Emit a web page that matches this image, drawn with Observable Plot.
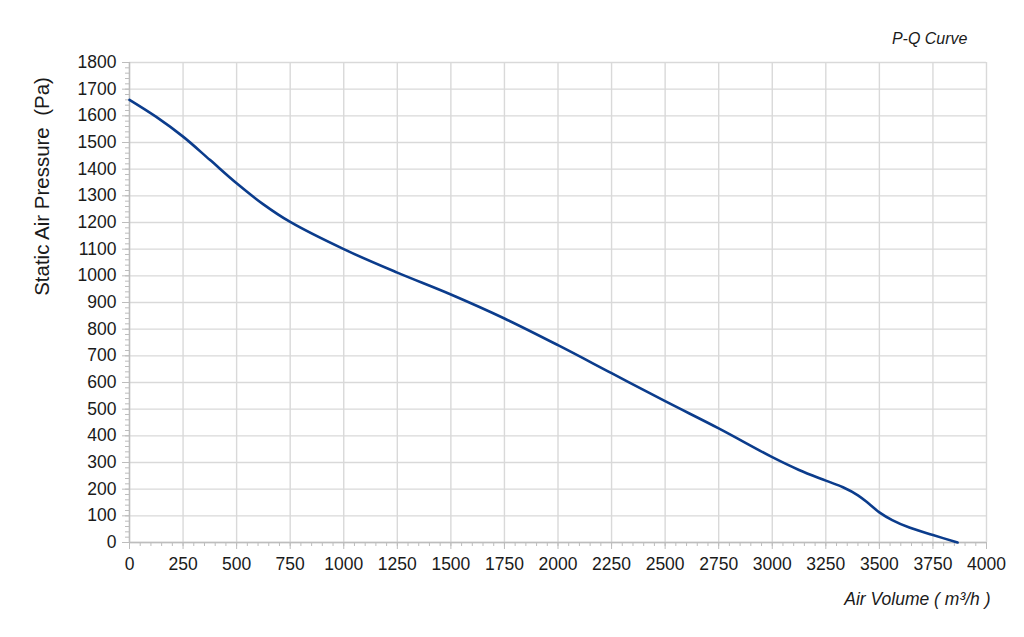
<!DOCTYPE html>
<html><head><meta charset="utf-8">
<script src="https://cdn.jsdelivr.net/npm/d3@7"></script>
<script src="https://cdn.jsdelivr.net/npm/@observablehq/plot@0.6"></script>
<style>body{margin:0;background:#fff;font-family:"Liberation Sans",Arial,sans-serif;}</style>
</head><body><div id="chart"></div>
<script>
const airVolume = [0, 125, 250, 375, 500, 625, 750, 1000, 1250, 1500, 1750, 2000, 2250, 2500, 2750, 3000, 3125, 3250, 3330, 3400, 3450, 3500, 3560, 3640, 3750, 3865];
const pressure  = [1660, 1596, 1522, 1435, 1347, 1268, 1202, 1100, 1012, 930, 840, 740, 635, 530, 428, 320, 272, 232, 207, 177, 146, 113, 84, 56, 28, 0];
const xTicks = [0, 250, 500, 750, 1000, 1250, 1500, 1750, 2000, 2250, 2500, 2750, 3000, 3250, 3500, 3750, 4000];
const yTicks = [0, 100, 200, 300, 400, 500, 600, 700, 800, 900, 1000, 1100, 1200, 1300, 1400, 1500, 1600, 1700, 1800];
const xMinor = d3.range(0, 4001, 50);
const yMinor = d3.range(0, 1801, 20);
const title = "P-Q Curve";
const xLabel = "Air Volume ( m³/h )";
const yLabel = "Static Air Pressure  (Pa)";

const data = airVolume.map((q, i) => ({q, p: pressure[i]}));
const grid = "#d9d9d9", tickCol = "#bdbdbd", ink = "#1a1a1a";

const chart = Plot.plot({
  width: 1024, height: 637,
  marginLeft: 129, marginRight: 38, marginTop: 62, marginBottom: 95,
  style: {fontFamily: '"Liberation Sans", Arial, sans-serif', fontSize: "17px", background: "#fff"},
  x: {domain: [0, 4000]},
  y: {domain: [0, 1800]},
  marks: [
    Plot.gridX(xTicks, {stroke: grid, strokeOpacity: 1, strokeWidth: 1.4}),
    Plot.gridY(yTicks, {stroke: grid, strokeOpacity: 1, strokeWidth: 1.4}),
    Plot.ruleX([0], {stroke: tickCol, strokeWidth: 1.4}),
    Plot.ruleY([0], {stroke: tickCol, strokeWidth: 1.4}),
    Plot.axisX(xMinor, {tickSize: 4, tickFormat: () => "", label: null, stroke: tickCol}),
    Plot.axisY(yMinor, {tickSize: 4, tickFormat: () => "", label: null, stroke: tickCol}),
    Plot.axisX(xTicks, {tickSize: 7, tickPadding: 8, tickFormat: d3.format("d"), label: null, stroke: tickCol, fill: ink, fontSize: 17.5}),
    Plot.axisY(yTicks, {tickSize: 7, tickPadding: 6, tickFormat: d3.format("d"), label: null, stroke: tickCol, fill: ink, fontSize: 17.5}),
    Plot.line(data, {x: "q", y: "p", stroke: "#0b3c8c", strokeWidth: 2.6, curve: "catmull-rom"}),
    Plot.text([title], {frameAnchor: "top-right", dx: -19, dy: -24, text: d => d, fontStyle: "italic", fontSize: 16, fill: ink, textAnchor: "end", lineAnchor: "middle"}),
    Plot.text([xLabel], {frameAnchor: "bottom-right", dx: 4, dy: 57, text: d => d, fontStyle: "italic", fontSize: 17.5, fill: ink, textAnchor: "end", lineAnchor: "middle"}),
    Plot.text([yLabel], {frameAnchor: "top-left", dx: -87, dy: 124, text: d => d, rotate: -90, fontSize: 20.5, fill: ink, textAnchor: "middle", lineAnchor: "middle"})
  ]
});
document.getElementById("chart").appendChild(chart);
</script>
</body></html>
